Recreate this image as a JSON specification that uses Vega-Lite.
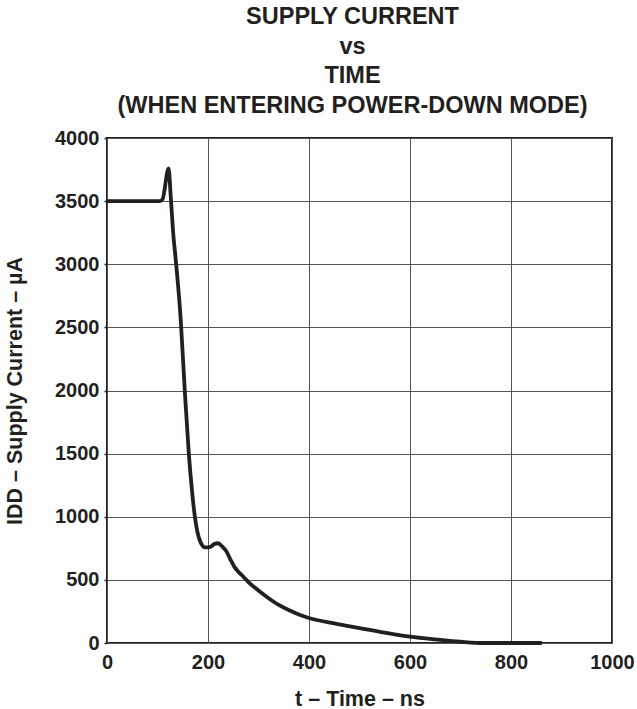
{
  "$schema": "https://vega.github.io/schema/vega-lite/v6.json",
  "autosize": {"type": "none"},
  "padding": {"left": 107, "top": 138, "right": 25, "bottom": 66},
  "width": 505,
  "height": 505,
  "background": "white",
  "title": {
    "text": ["SUPPLY CURRENT", "vs", "TIME", "(WHEN ENTERING POWER-DOWN MODE)"],
    "anchor": "middle",
    "frame": "group",
    "font": "Liberation Sans",
    "fontSize": 23.5,
    "fontWeight": "bold",
    "color": "#231f20",
    "lineHeight": 29.5,
    "baseline": "bottom",
    "offset": 20,
    "dx": -7,
    "dy": 33
  },
  "config": {
    "view": {"stroke": "#231f20", "strokeWidth": 2},
    "axis": {
      "labelFont": "Liberation Sans",
      "labelFontWeight": "bold",
      "labelFontSize": 20,
      "labelColor": "#231f20",
      "titleFont": "Liberation Sans",
      "titleFontWeight": "bold",
      "titleFontSize": 21.5,
      "titleColor": "#231f20",
      "gridColor": "#555555",
      "gridWidth": 1,
      "gridOpacity": 1,
      "domain": false,
      "tickColor": "#231f20",
      "tickSize": 3,
      "tickWidth": 1.5
    }
  },
  "data": {
    "values": [
      {"t": 0, "i": 3500}, {"t": 105, "i": 3500}, {"t": 110, "i": 3515},
      {"t": 122, "i": 3760}, {"t": 126, "i": 3550}, {"t": 131, "i": 3250},
      {"t": 137, "i": 3000}, {"t": 146, "i": 2560}, {"t": 154, "i": 2000},
      {"t": 162, "i": 1500}, {"t": 168, "i": 1220}, {"t": 174, "i": 1000},
      {"t": 179, "i": 880}, {"t": 184, "i": 810}, {"t": 189, "i": 772},
      {"t": 194, "i": 758}, {"t": 200, "i": 758}, {"t": 206, "i": 765},
      {"t": 213, "i": 785}, {"t": 220, "i": 790}, {"t": 228, "i": 765},
      {"t": 236, "i": 728}, {"t": 244, "i": 665}, {"t": 252, "i": 605},
      {"t": 260, "i": 565}, {"t": 270, "i": 525}, {"t": 280, "i": 482},
      {"t": 298, "i": 422}, {"t": 316, "i": 367}, {"t": 340, "i": 302},
      {"t": 362, "i": 258}, {"t": 380, "i": 226}, {"t": 400, "i": 198},
      {"t": 450, "i": 155}, {"t": 500, "i": 118}, {"t": 550, "i": 82},
      {"t": 600, "i": 50}, {"t": 650, "i": 28}, {"t": 700, "i": 10},
      {"t": 745, "i": 0}, {"t": 800, "i": 0}, {"t": 861, "i": 0}
    ]
  },
  "mark": {"type": "line", "color": "#231f20", "strokeWidth": 3.8, "interpolate": "monotone", "strokeJoin": "round", "strokeCap": "butt"},
  "encoding": {
    "x": {
      "field": "t", "type": "quantitative",
      "scale": {"domain": [0, 1000], "nice": false},
      "axis": {"values": [0, 200, 400, 600, 800, 1000], "format": "d", "title": "t – Time – ns", "labelPadding": 9, "titlePadding": 16, "ticks": false, "labelFlush": false}
    },
    "y": {
      "field": "i", "type": "quantitative",
      "scale": {"domain": [0, 4000], "nice": false},
      "axis": {"values": [0, 500, 1000, 1500, 2000, 2500, 3000, 3500, 4000], "format": "d", "title": "IDD – Supply Current – µA", "labelPadding": 5, "titlePadding": 28}
    }
  }
}
